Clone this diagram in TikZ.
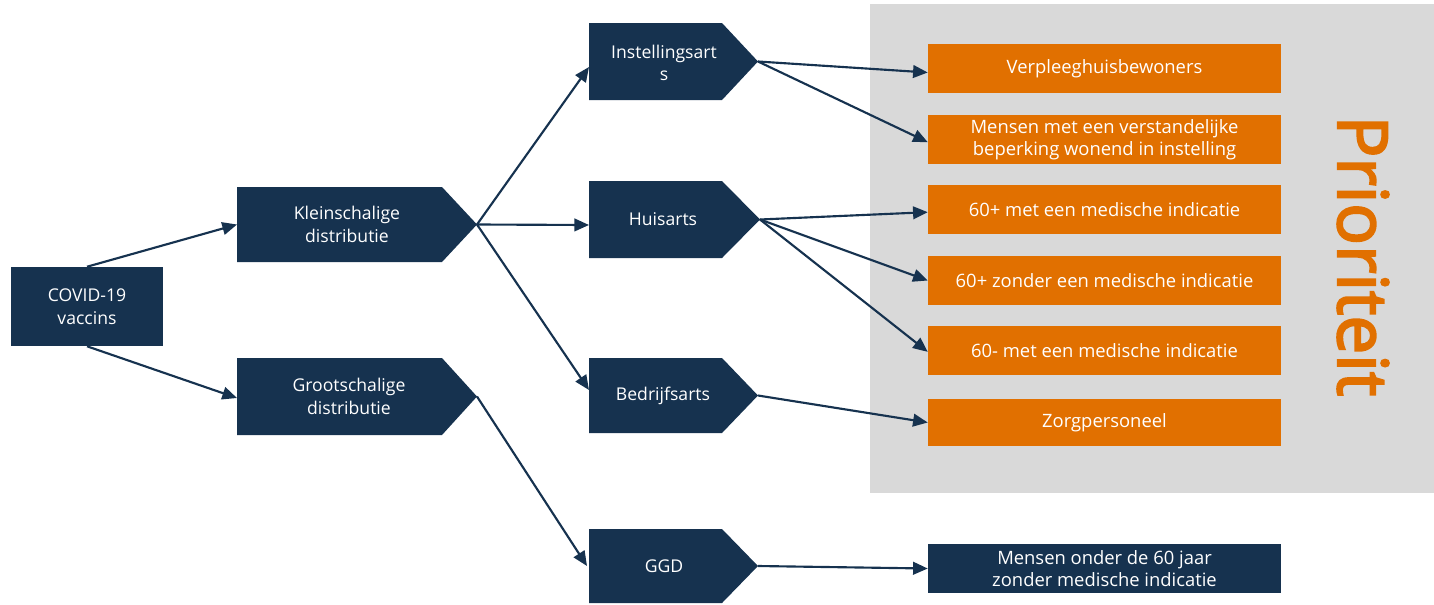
\documentclass[tikz,border=0pt]{standalone}
\usepackage{fontspec}
\setmainfont{Open Sans}
\newfontfamily\priofont[FakeBold=3]{Open Sans}
\usetikzlibrary{arrows.meta}
\definecolor{navy}{HTML}{16324F}
\definecolor{prioorange}{HTML}{E17000}
\definecolor{bggray}{HTML}{D9D9D9}
\begin{document}
\begin{tikzpicture}[x=0.75pt,y=-0.75pt,
  ptext/.style={text=white, align=center, inner sep=0pt, font=\fontsize{13.2}{17}\selectfont},
  obox/.style={fill=prioorange, text=white, align=center, inner sep=0pt,
    minimum width=353*0.75pt, minimum height=49*0.75pt, font=\fontsize{13.8}{16.5}\selectfont},
  dbox/.style={obox, fill=navy},
  conn/.style={draw=navy, line width=1.6pt, -{Triangle[length=11pt,width=9.5pt]}},
  pent/.style={fill=navy}
]
\useasboundingbox (0,0) rectangle (1434,604);
% background
\fill[bggray] (870,4) rectangle (1434,493);
\node[rotate=-90, text=prioorange, inner sep=0pt, font=\priofont\fontsize{52}{52}\selectfont] (prioriteit) at (1363,256) {Prioriteit};

% start box
\node[fill=navy, text=white, align=center, inner sep=0pt, minimum width=152*0.75pt, minimum height=79*0.75pt,
  font=\fontsize{13.2}{17}\selectfont] (covid) at (87,306.5) {COVID-19\\vaccins};

% pentagons
\fill[pent] (237,187) -- (442,187) -- (477,224.5) -- (442,262) -- (237,262) -- cycle;
\node[ptext] (klein) at (347,224.5) {Kleinschalige\\distributie};
\coordinate (klein-in) at (237,224.5);
\coordinate (klein-tip) at (477,224.5);

\fill[pent] (237,358) -- (442,358) -- (477,396.5) -- (442,435) -- (237,435) -- cycle;
\node[ptext] (groot) at (349,396.5) {Grootschalige\\distributie};
\coordinate (groot-in) at (237,398);
\coordinate (groot-tip) at (477,396.5);

\fill[pent] (589,23) -- (722,23) -- (758,61.5) -- (722,100) -- (589,100) -- cycle;
\node[ptext] (inst) at (664,63) {Instellingsart\\s};
\coordinate (inst-in) at (589,67);
\coordinate (inst-tip) at (758,61.5);

\fill[pent] (589,181) -- (722,181) -- (760,219.5) -- (722,258) -- (589,258) -- cycle;
\node[ptext] (huis) at (663,219.5) {Huisarts};
\coordinate (huis-in) at (589,225);
\coordinate (huis-tip) at (760,219.5);

\fill[pent] (589,358) -- (722,358) -- (758,395.5) -- (722,433) -- (589,433) -- cycle;
\node[ptext] (bedr) at (663,395.5) {Bedrijfsarts};
\coordinate (bedr-in) at (589,390);
\coordinate (bedr-tip) at (758,395.5);

\fill[pent] (589,529) -- (722,529) -- (758,566) -- (722,603) -- (589,603) -- cycle;
\node[ptext] (ggd) at (664,566) {GGD};
\coordinate (ggd-in) at (587,566);
\coordinate (ggd-tip) at (758,566);

% target boxes
\node[obox] (verp) at (1104.5,68.5) {Verpleeghuisbewoners};
\node[obox] (mensen) at (1104.5,139.5) {Mensen met een verstandelijke\\beperking wonend in instelling};
\node[obox] (p60m) at (1104.5,209.5) {60+ met een medische indicatie};
\node[obox] (p60z) at (1104.5,280.5) {60+ zonder een medische indicatie};
\node[obox] (m60m) at (1104.5,350.5) {60- met een medische indicatie};
\node[obox, minimum height=47*0.75pt] (zorg) at (1104.5,422.5) {Zorgpersoneel};
\node[dbox] (onder) at (1104.5,568.5) {Mensen onder de 60 jaar\\zonder medische indicatie};

% connectors
\draw[conn] (covid.north) -- (klein-in);
\draw[conn] (covid.south) -- (groot-in);
\draw[conn] (klein-tip) -- (inst-in);
\draw[conn] (klein-tip) -- (huis-in);
\draw[conn] (klein-tip) -- (bedr-in);
\draw[conn] (groot-tip) -- (ggd-in);
\draw[conn] (inst-tip) -- ([yshift=-3pt]verp.west);
\draw[conn] (inst-tip) -- ([yshift=-2pt]mensen.west);
\draw[conn] (huis-tip) -- ([yshift=-2pt]p60m.west);
\draw[conn] (huis-tip) -- (p60z.west);
\draw[conn] (huis-tip) -- ([yshift=-1pt]m60m.west);
\draw[conn] (bedr-tip) -- (zorg.west);
\draw[conn] (ggd-tip) -- (onder.west);
\end{tikzpicture}
\end{document}
